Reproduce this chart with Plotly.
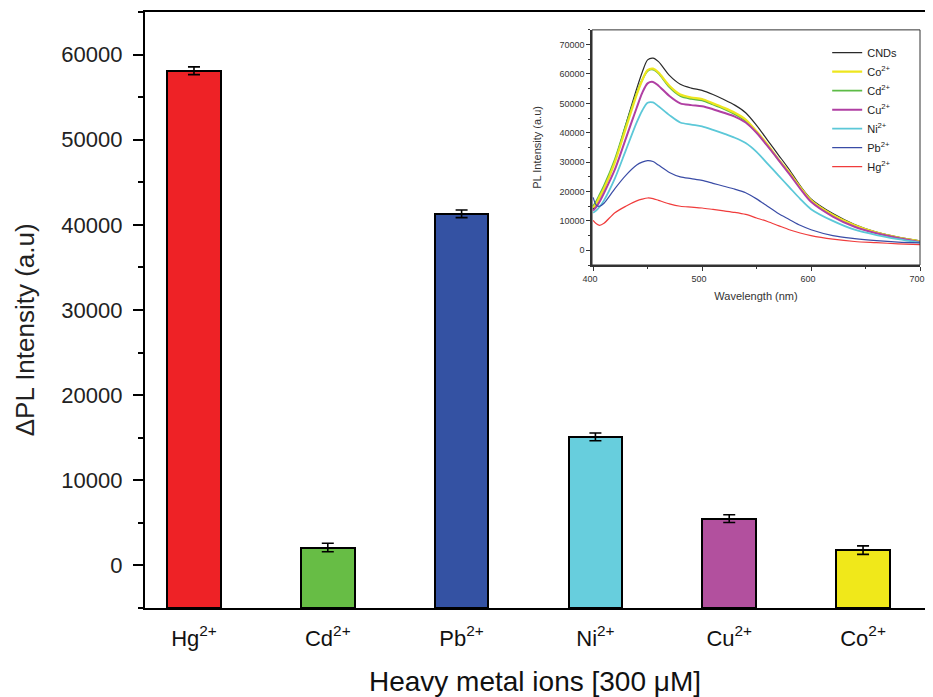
import plotly.graph_objects as go

# ---------------- main bar chart data ----------------
ions = ["Hg<sup>2+</sup>", "Cd<sup>2+</sup>", "Pb<sup>2+</sup>", "Ni<sup>2+</sup>", "Cu<sup>2+</sup>", "Co<sup>2+</sup>"]
delta_pl = [58100, 2100, 41300, 15100, 5500, 1800]
delta_err = [450, 500, 450, 450, 450, 500]
bar_colors = ["#EE2226", "#67BD45", "#3452A3", "#67CEDD", "#B2509E", "#F0E81A"]
y_ticks = [0, 10000, 20000, 30000, 40000, 50000, 60000]
Y_MIN, Y_MAX = -5000, 65000

# ---------------- inset spectra data ----------------
wavelength = [400, 403, 406, 410, 420, 430, 440, 445, 450, 455, 460, 470, 480, 490, 500,
              510, 520, 530, 540, 550, 560, 570, 580, 590, 600, 620, 640, 660, 680, 700]
pl_cnds = [14000, 15800, 18000, 21000, 30400, 42800, 55000, 60500, 64800, 65400, 64200, 59500, 56500, 55200, 54400,
           53000, 51300, 49400, 46800, 42500, 37500, 32500, 27500, 22000, 17500, 12500, 8800, 6200, 4500, 3200]
pl_co = [14500, 16000, 18200, 21000, 30000, 41500, 53000, 57800, 61300, 61800, 60500, 56000, 53000, 52000, 51500,
         50000, 48500, 46800, 44500, 40500, 36000, 31000, 26500, 21500, 17000, 12000, 8500, 6000, 4300, 3000]
pl_cd = [15000, 16800, 19000, 22000, 31000, 42500, 53500, 58000, 61000, 61500, 60200, 55500, 52500, 51500, 51000,
         49600, 48100, 46300, 44000, 40200, 35700, 31000, 26300, 21400, 17000, 12000, 8400, 6000, 4300, 3000]
pl_cu = [13500, 14800, 16600, 19500, 27500, 38000, 48500, 53500, 56800, 57300, 56000, 52500, 50000, 49400, 49000,
         48000, 46800, 45500, 43500, 40000, 35500, 30800, 26000, 21000, 16500, 11500, 8000, 5800, 4200, 2800]
pl_ni = [12800, 13600, 14800, 17000, 24500, 34000, 43500, 47500, 50200, 50300, 49000, 46000, 43500, 42800, 42200,
         41000, 39700, 38300, 36500, 33500, 29500, 25500, 21500, 17500, 14000, 10000, 7000, 5200, 3800, 2600]
pl_pb = [18000, 15300, 15000, 16000, 21000, 25500, 29000, 30000, 30500, 30200, 29000, 26500, 25000, 24400, 23800,
         22800, 21800, 20800, 19600, 17500, 15000, 12500, 10500, 8500, 7000, 5000, 4000, 3300, 2800, 2500]
pl_hg = [10200, 9000, 8500, 9200, 12800, 15000, 16800, 17400, 17800, 17600, 17000, 15800, 15000, 14700, 14400,
         13900, 13400, 12900, 12200, 11000, 9800, 8400, 7000, 5900, 5000, 3800, 3000, 2600, 2200, 1900]

inset_series = [
    ("CNDs", pl_cnds, "#2a2a2a", 1.2, 1),
    ("Cd<sup>2+</sup>", pl_cd, "#5DBB46", 1.8, 3),
    ("Co<sup>2+</sup>", pl_co, "#EEE61E", 2.2, 2),
    ("Cu<sup>2+</sup>", pl_cu, "#B03FA3", 2.0, 4),
    ("Ni<sup>2+</sup>", pl_ni, "#5CC8D8", 1.8, 5),
    ("Pb<sup>2+</sup>", pl_pb, "#3A4CA6", 1.2, 6),
    ("Hg<sup>2+</sup>", pl_hg, "#F03C3C", 1.2, 7),
]
inset_xticks = [400, 500, 600, 700]
inset_yticks = [0, 10000, 20000, 30000, 40000, 50000, 60000, 70000]

fig = go.Figure()

x_pos = list(range(len(ions)))
fig.add_trace(go.Bar(
    x=x_pos, y=[v - Y_MIN for v in delta_pl], base=Y_MIN,
    width=0.4, marker=dict(color=bar_colors, line=dict(color="black", width=2)),
    showlegend=False, xaxis="x", yaxis="y"))
fig.add_trace(go.Scatter(
    x=x_pos, y=delta_pl, mode="markers", marker=dict(size=1, opacity=0),
    error_y=dict(type="data", array=delta_err, color="black", thickness=1.6, width=6),
    showlegend=False, xaxis="x", yaxis="y"))

for name, vals, col, lw, rank in inset_series:
    fig.add_trace(go.Scatter(
        x=wavelength, y=vals, mode="lines", name=name, legendrank=rank,
        line=dict(color=col, width=lw, shape="spline", smoothing=0.8),
        xaxis="x2", yaxis="y2"))

main_font = "Arial, Liberation Sans, sans-serif"

fig.update_layout(
    width=917, height=689,
    margin=dict(l=137, r=0, t=4, b=89),
    paper_bgcolor="white", plot_bgcolor="white",
    font=dict(family=main_font, color="#1a1a1a"),
    bargap=0,
    xaxis=dict(
        domain=[0, 1], range=[-0.366, 5.463], automargin=False,
        tickvals=x_pos, ticktext=ions, ticks="",
        tickfont=dict(family=main_font, size=22, color="#111"),
        ticklabelstandoff=9,
        showline=True, linecolor="black", linewidth=2.2, mirror=True,
        showgrid=False, zeroline=False,
        title=dict(text="Heavy metal ions [300 μM]", font=dict(family=main_font, size=28, color="#111"), standoff=28),
    ),
    yaxis=dict(
        domain=[0, 1], range=[Y_MIN, Y_MAX], automargin=False,
        tickvals=y_ticks, tickformat="d", ticks="outside", ticklen=10, tickwidth=1.8, tickcolor="black",
        minor=dict(dtick=5000, ticks="outside", ticklen=5, tickwidth=1.5, tickcolor="black", showgrid=False),
        tickfont=dict(family=main_font, size=22, color="#222"),
        ticklabelstandoff=6,
        showline=True, linecolor="black", linewidth=2.2, mirror=False,
        showgrid=False, zeroline=False,
    ),
    xaxis2=dict(
        domain=[0.5731, 0.9936], anchor="y2", range=[399, 700], automargin=False,
        tickvals=inset_xticks, tickformat="d", ticks="outside", ticklen=4, tickwidth=1, tickcolor="#333",
        minor=dict(dtick=50, tick0=400, ticks="outside", ticklen=2.5, tickcolor="#333"),
        tickfont=dict(family=main_font, size=9, color="#333"),
        ticklabeloverflow="allow", ticklabelshift=-3,
        showline=True, linecolor="#333", linewidth=1.6,
        showgrid=False, zeroline=False,
        title=dict(text="Wavelength (nm)", font=dict(family=main_font, size=11, color="#333"), standoff=10),
    ),
    yaxis2=dict(
        domain=[0.5755, 0.97], anchor="x2", range=[-5000, 75000], automargin=False,
        tickvals=inset_yticks, tickformat="d", ticks="outside", ticklen=4, tickwidth=1, tickcolor="#333",
        minor=dict(dtick=5000, ticks="outside", ticklen=2.5, tickcolor="#333"),
        tickfont=dict(family=main_font, size=9, color="#333"),
        showline=True, linecolor="#333", linewidth=1.6,
        showgrid=False, zeroline=False,
        title=dict(text="PL Intensity (a.u)", font=dict(family=main_font, size=11, color="#333"), standoff=16),
    ),
    legend=dict(
        x=0.8746, y=0.956, xanchor="left", yanchor="top",
        bgcolor="rgba(0,0,0,0)", borderwidth=0,
        font=dict(family=main_font, size=11, color="#222"),
        itemwidth=30, tracegroupgap=0,
    ),
    annotations=[dict(
        text="ΔPL Intensity (a.u)", textangle=-90, showarrow=False,
        xref="paper", yref="paper", x=-0.1538, y=0.466, xanchor="center", yanchor="middle",
        font=dict(family=main_font, size=26, color="#222"))],
    shapes=[dict(type="rect", xref="x2 domain", yref="y2 domain", x0=0, x1=1, y0=0, y1=1,
                 line=dict(color="#333", width=1))],
)

fig.write_html("out.html")
